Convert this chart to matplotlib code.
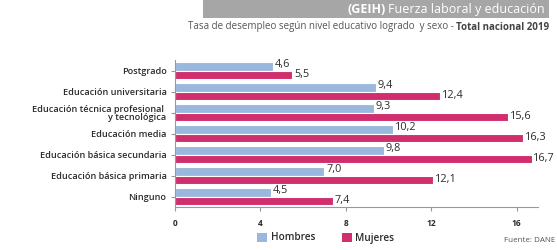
import matplotlib.pyplot as plt
import numpy as np
from matplotlib.patches import Rectangle

plt.rcParams['font.family'] = ['Open Sans', 'DejaVu Sans']

categorias = ["Postgrado", "Educación universitaria",
              "Educación técnica profesional \ny tecnológica", "Educación media",
              "Educación básica secundaria", "Educación básica primaria", "Ninguno"]
hombres = [4.6, 9.4, 9.3, 10.2, 9.8, 7.0, 4.5]
mujeres = [5.5, 12.4, 15.6, 16.3, 16.7, 12.1, 7.4]
xticks = [0, 4, 8, 12, 16]

c_h = "#9ab8de"
c_m = "#d02e6c"
txt = "#2b2b2b"

W, H = 557, 250
fig = plt.figure(figsize=(W / 100, H / 100), dpi=100)
ax = fig.add_axes([0.314, 0.172, 0.652, 0.588])

y = np.arange(len(categorias))
h = 0.39
ax.barh(y - h / 2, hombres, height=h, color=c_h, edgecolor="white", linewidth=0.8)
ax.barh(y + h / 2, mujeres, height=h, color=c_m, edgecolor="white", linewidth=0.8)

for i in range(len(categorias)):
    ax.text(hombres[i] + 0.08, y[i] - h / 2 - 0.1, f"{hombres[i]:.1f}".replace(".", ","),
            va="center", ha="left", fontsize=7.8, color=txt)
    ax.text(mujeres[i] + 0.08, y[i] + h / 2, f"{mujeres[i]:.1f}".replace(".", ","),
            va="center", ha="left", fontsize=7.8, color=txt)

ax.set_ylim(len(categorias) - 0.5, -0.5)
ax.set_xlim(0, 17)
ax.set_yticks(y)
ax.set_yticklabels(categorias, fontsize=6.6, color=txt, linespacing=0.9, fontweight=600)
ax.set_xticks(xticks)
ax.set_xticklabels([str(t) for t in xticks], fontsize=6, fontweight="bold", color=txt)
ax.tick_params(axis="y", length=3, color="#999999", pad=3)
ax.tick_params(axis="x", length=3, color="#999999", pad=6)
for s in ["top", "right"]:
    ax.spines[s].set_visible(False)
for s in ["left", "bottom"]:
    ax.spines[s].set_color("#999999")
    ax.spines[s].set_linewidth(0.8)

# title banner
fig.add_artist(Rectangle((203 / W, 1 - 18 / H), 346 / W, 18 / H,
                         transform=fig.transFigure, facecolor="#a6a6a6",
                         edgecolor="none", zorder=0))
t1 = fig.text(545 / W, 1 - 9.5 / H, "Fuerza laboral y educación", ha="right", va="center",
              fontsize=9, color="white")
fig.canvas.draw()
bb = t1.get_window_extent()
fig.text(bb.x0 / W - 0.005, 1 - 9.5 / H, "(GEIH)", ha="right", va="center",
         fontsize=9, color="white", fontweight="bold")

t2 = fig.text(549 / W, 1 - 27 / H, "Total nacional 2019", ha="right", va="center",
              fontsize=7, color="#444444", fontweight="bold")
fig.canvas.draw()
bb2 = t2.get_window_extent()
fig.text(bb2.x0 / W - 0.003, 1 - 27 / H,
         "Tasa de desempleo según nivel educativo logrado  y sexo -", ha="right", va="center",
         fontsize=7, color="#555555")

# legend
fig.add_artist(Rectangle((257 / W, 1 - 242 / H), 10 / W, 9 / H,
                         transform=fig.transFigure, facecolor=c_h, edgecolor="none"))
fig.text(271 / W, 1 - 238 / H, "Hombres", va="center", fontsize=7.2, color=txt, fontweight=600)
fig.add_artist(Rectangle((342 / W, 1 - 242 / H), 10 / W, 9 / H,
                         transform=fig.transFigure, facecolor=c_m, edgecolor="none"))
fig.text(355 / W, 1 - 238 / H, "Mujeres", va="center", fontsize=7.2, color=txt, fontweight=600)

fig.text(555 / W, 1 - 241 / H, "Fuente: DANE", ha="right", va="center",
         fontsize=5.8, color="#555555")

fig.savefig("out.png", dpi=100)
